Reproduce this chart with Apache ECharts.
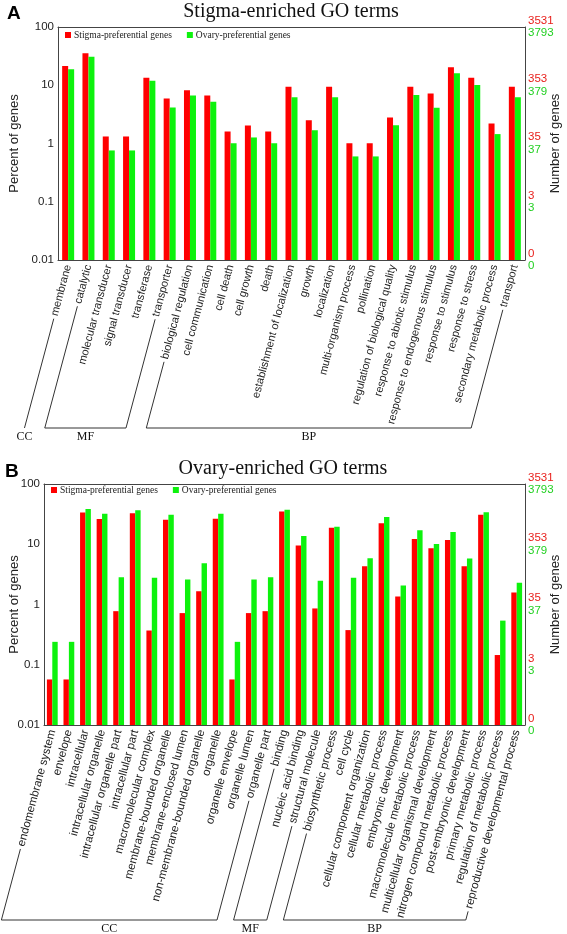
<!DOCTYPE html>
<html><head><meta charset="utf-8">
<script src="https://cdn.jsdelivr.net/npm/echarts@6.0.0/dist/echarts.min.js"></script>
<style>html,body{margin:0;padding:0;background:#fff}#c{width:567px;height:934px}</style>
</head><body><div id="c"></div>
<script>
// ---------- data ----------
const topTitle = 'Stigma-enriched GO terms';
const bottomTitle = 'Ovary-enriched GO terms';
const seriesNames = ['Stigma-preferential genes', 'Ovary-preferential genes'];

const topCategories = ['membrane','catalytic','molecular transducer','signal transducer','transferase','transporter',
  'biological regulation','cell communication','cell death','cell growth','death','establishment of localization',
  'growth','localization','multi-organism process','pollination','regulation of biological quality',
  'response to abiotic stimulus','response to endogenous stimulus','response to stimulus','response to stress',
  'secondary metabolic process','transport'];
const topStigma = [21.4,35.4,1.32,1.32,13.5,5.9,8.2,6.7,1.6,2.04,1.6,9.4,2.5,9.4,1.01,1.01,2.8,9.4,7.2,20.4,13.4,2.2,9.4];
const topOvary  = [18.8,31.0,0.76,0.76,12.0,4.14,6.65,5.2,1.01,1.27,1.01,6.2,1.69,6.2,0.60,0.60,2.06,6.8,4.1,16.1,10.1,1.45,6.2];
const topGroupNames = ['CC','MF','BP'];
const topGroupFirst = ['membrane','catalytic','biological regulation'];
const topGroupLast  = ['membrane','transporter','transport'];

const bottomCategories = ['endomembrane system','envelope','intracellular','intracellular organelle',
  'intracellular organelle part','intracellular part','macromolecular complex','membrane-bounded organelle',
  'membrane-enclosed lumen','non-membrane-bounded organelle','organelle','organelle envelope','organelle lumen',
  'organelle part','binding','nucleic acid binding','structural molecule','biosynthetic process','cell cycle',
  'cellular component organization','cellular metabolic process','embryonic development',
  'macromolecule metabolic process','multicellular organismal development','nitrogen compound metabolic process',
  'post-embryonic development','primary metabolic process','regulation of metabolic process',
  'reproductive developmental process'];
const bottomStigma = [0.057,0.057,33.5,26.3,0.775,32.6,0.37,25.6,0.72,1.66,26.6,0.057,0.72,0.775,34.8,9.5,0.86,18.7,0.376,4.32,22.3,1.36,12.2,8.6,11.8,4.32,31.0,0.145,1.58];
const bottomOvary  = [0.24,0.24,38.5,32.2,2.84,36.6,2.77,31.0,2.6,4.84,32.2,0.24,2.6,2.84,37.5,13.7,2.47,19.6,2.77,5.86,28.4,2.06,17.1,10.1,16.0,5.78,33.9,0.54,2.29];
const bottomGroupNames = ['CC','MF','BP'];
const bottomGroupFirst = ['endomembrane system','binding','biosynthetic process'];
const bottomGroupLast  = ['organelle part','structural molecule','reproductive developmental process'];

const percentTickLabels = ['0.01','0.1','1','10','100'];
const stigmaCountLabels = ['0','3','35','353','3531'];
const ovaryCountLabels  = ['0','3','37','379','3793'];

// ---------- styling ----------
const RED = '#ff0000', GREEN = '#0df20d';
const SANS = '"Liberation Sans", Arial, sans-serif';
const SERIF = '"Liberation Serif", "Times New Roman", serif';
const ROT = 75, LMARGIN = 5;
const AXMIN = 0.01;

const chart = echarts.init(document.getElementById('c'), null, {renderer: 'canvas'});

function tickIdx(v){ return Math.round(Math.log10(v)) + 2; }

function catAxes(grid, cats, fs){
  return [
    {type:'category', gridIndex:grid, data:cats, position:'bottom',
     axisLine:{lineStyle:{color:'#444', width:1}},
     axisTick:{inside:true, length:3, alignWithLabel:false, lineStyle:{color:'#444'}},
     axisLabel:{interval:0, rotate:ROT, margin:LMARGIN, fontSize:fs, color:'#222', fontFamily:SANS}},
    {type:'category', gridIndex:grid, data:cats, position:'top',
     axisLine:{lineStyle:{color:'#444', width:1}},
     axisTick:{inside:true, length:3, alignWithLabel:false, lineStyle:{color:'#444'}},
     axisLabel:{show:false}}
  ];
}
function valAxes(grid, gapL, gapR){
  return [
    {type:'log', logBase:10, gridIndex:grid, min:AXMIN, max:100, position:'left',
     axisLine:{show:true, lineStyle:{color:'#444'}},
     axisTick:{inside:true, length:4, lineStyle:{color:'#444'}},
     splitLine:{show:false}, minorTick:{show:false},
     axisLabel:{fontSize:11.5, color:'#222', fontFamily:SANS, margin:4,
       formatter: v => percentTickLabels[tickIdx(v)]},
     name:'Percent of genes', nameLocation:'middle', nameRotate:90, nameGap:gapL, nameMoveOverlap:false,
     nameTextStyle:{fontSize:13, color:'#222', fontFamily:SANS}},
    {type:'log', logBase:10, gridIndex:grid, min:AXMIN, max:100, position:'right',
     axisLine:{show:true, lineStyle:{color:'#444'}},
     axisTick:{inside:true, length:4, lineStyle:{color:'#444'}},
     splitLine:{show:false}, minorTick:{show:false},
     axisLabel:{margin:3, fontFamily:SANS, fontSize:11.5,
       formatter: v => '{r|' + stigmaCountLabels[tickIdx(v)] + '}\n{g|' + ovaryCountLabels[tickIdx(v)] + '}',
       rich:{r:{color:'#e8201c', fontSize:11.5, lineHeight:12.5, fontFamily:SANS},
             g:{color:'#22d022', fontSize:11.5, lineHeight:12.5, fontFamily:SANS}}},
     name:'Number of genes', nameLocation:'middle', nameRotate:90, nameGap:gapR, nameMoveOverlap:false,
     nameTextStyle:{fontSize:13, color:'#222', fontFamily:SANS}}
  ];
}
function legendFor(left, top){
  return {data:seriesNames, left:left, top:top, padding:0, icon:'rect', itemWidth:6, itemHeight:6, itemGap:15,
    textStyle:{fontFamily:SERIF, fontSize:9.5, color:'#222', padding:[0,0,0,-2]}};
}
// bars drawn on the log axis from the axis minimum up to each value
function barSeries(xi, yi, values, name, color, side, bw){
  return {type:'custom', name:name, xAxisIndex:xi, yAxisIndex:yi,
    data: values.map((v, i) => [i, v]), encode:{x:0, y:1},
    itemStyle:{color:color}, animation:false, silent:true,
    renderItem: (params, api) => {
      const top = api.coord([api.value(0), api.value(1)]);
      const base = api.coord([api.value(0), AXMIN]);
      const x = side === 0 ? top[0] - bw : top[0];
      return {type:'rect', shape:{x:x, y:top[1], width:bw, height:base[1] - top[1]},
              style:{fill:color}};
    }};
}

const option = {
  animation:false,
  color:[RED, GREEN],
  title:[
    {text:topTitle, left:291, top:2, padding:0, textAlign:'center',
     textStyle:{fontFamily:SERIF, fontSize:20, fontWeight:'normal', color:'#111'}},
    {text:bottomTitle, left:283, top:459, padding:0, textAlign:'center',
     textStyle:{fontFamily:SERIF, fontSize:20, fontWeight:'normal', color:'#111'}},
    {text:'A', left:7, top:4, padding:0, textStyle:{fontFamily:SANS, fontSize:19, fontWeight:'bold', color:'#000'}},
    {text:'B', left:5, top:462, padding:0, textStyle:{fontFamily:SANS, fontSize:19, fontWeight:'bold', color:'#000'}}
  ],
  legend:[legendFor(65, 30), legendFor(51, 485)],
  grid:[
    {left:58, right:42, top:27, height:233, show:false, outerBoundsMode:'none', containLabel:false},
    {left:44, right:42, top:484, height:241, show:false, outerBoundsMode:'none', containLabel:false}
  ],
  xAxis: catAxes(0, topCategories, 11).concat(catAxes(1, bottomCategories, 11.5)),
  yAxis: valAxes(0, 37, 24).concat(valAxes(1, 23, 24)),
  series: [
    barSeries(0, 0, topStigma, seriesNames[0], RED, 0, 6),
    barSeries(0, 0, topOvary, seriesNames[1], GREEN, 1, 6),
    barSeries(2, 2, bottomStigma, seriesNames[0], RED, 0, 5.4),
    barSeries(2, 2, bottomOvary, seriesNames[1], GREEN, 1, 5.4)
  ]
};
chart.setOption(option);

// ---------- group brackets below the rotated category labels ----------
const measureCtx = document.createElement('canvas').getContext('2d');
function bracketGraphics(xi, yi, cats, fs, names, firsts, lasts, bracketY, textY){
  const out = [];
  measureCtx.font = fs + 'px ' + SANS;
  const axisY = chart.convertToPixel({yAxisIndex:yi}, AXMIN);
  const th = ROT * Math.PI / 180, dx = -Math.cos(th), dy = Math.sin(th);
  function leg(cat){
    const x0 = chart.convertToPixel({xAxisIndex:xi}, cat);
    const L = measureCtx.measureText(cat).width + 3;
    const sx = x0 + dx * L, sy = axisY + LMARGIN + dy * L;
    const t = (bracketY - sy) / dy;
    return {top:[sx, sy], bottom:[sx + dx * t, bracketY]};
  }
  names.forEach((nm, k) => {
    const a = leg(firsts[k]), b = leg(lasts[k]);
    const pts = firsts[k] === lasts[k] ? [a.top, a.bottom] : [a.top, a.bottom, b.bottom, b.top];
    out.push({type:'polyline', shape:{points:pts}, style:{stroke:'#333', lineWidth:1, fill:null}, silent:true});
    const cx = (a.bottom[0] + b.bottom[0]) / 2;
    out.push({type:'text', x:cx, y:textY, silent:true,
      style:{text:nm, fontFamily:SERIF, fontSize:12, fill:'#111', align:'center', verticalAlign:'middle'}});
  });
  return out;
}
chart.setOption({graphic:
  bracketGraphics(0, 0, topCategories, 11, topGroupNames, topGroupFirst, topGroupLast, 428, 437)
  .concat(bracketGraphics(2, 2, bottomCategories, 11.5, bottomGroupNames, bottomGroupFirst, bottomGroupLast, 920, 929))
});
</script>
</body></html>
